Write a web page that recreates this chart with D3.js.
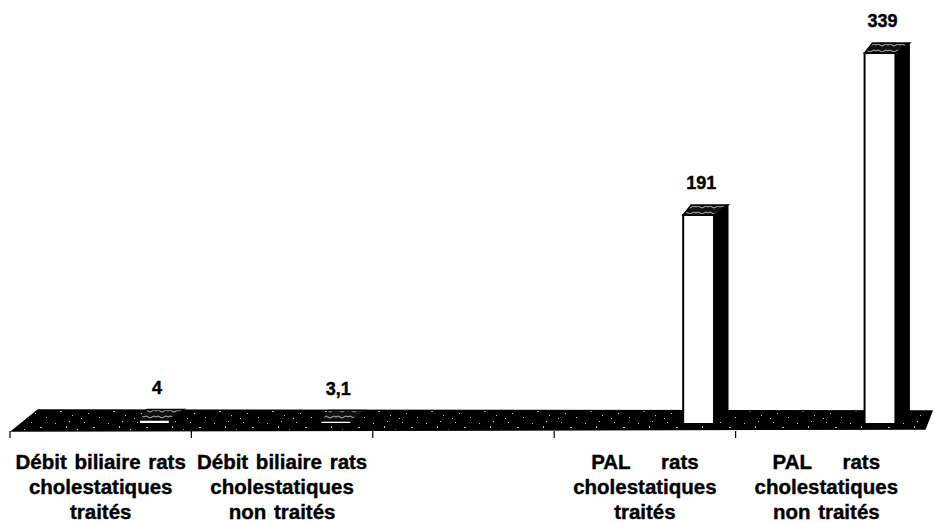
<!DOCTYPE html>
<html>
<head>
<meta charset="utf-8">
<script src="https://cdn.jsdelivr.net/npm/d3@7"></script>
<style>
  html, body { margin: 0; padding: 0; background: #fff; }
  svg { display: block; }
  text { font-family: "Liberation Sans", Arial, sans-serif; font-weight: bold; fill: #000; stroke: #000; stroke-width: 0.4px; }
</style>
</head>
<body>
<svg id="chart" width="934" height="522"></svg>
<script>
// Categories (one empty slot between the two groups) and their wrapped labels
const categories = [
  "Débit biliaire rats cholestatiques traités",
  "Débit biliaire rats cholestatiques non traités",
  "",
  "PAL rats cholestatiques traités",
  "PAL rats cholestatiques non traités"
];
const labelLines = [
  ["Débit biliaire rats", "cholestatiques", "traités"],
  ["Débit biliaire rats", "cholestatiques", "non traités"],
  [],
  ["PAL    rats", "cholestatiques", "traités"],
  ["PAL    rats", "cholestatiques", "non traités"]
];
const values = [4, 3.1, null, 191, 339];
const valueLabels = ["4", "3,1", "", "191", "339"];

const svg = d3.select("#chart");

// Scales
const x = d3.scaleBand().domain(d3.range(categories.length)).range([10, 917]).padding(0);
const y = d3.scaleLinear().domain([0, 339]).range([424, 53]);

// Depth of the 3D look
const floorFront = 431, floorBack = 410;
const topDy = 10, topDxL = 8, topDxR = 14;
const bw = x.bandwidth();
const barLeft = i => x(i) + bw * 0.711;
const barFront = bw * 0.17;

// Speckled texture used on the floor
const defs = svg.append("defs");
const pat = defs.append("pattern")
  .attr("id", "speckle").attr("patternUnits", "userSpaceOnUse")
  .attr("width", 53).attr("height", 21);
pat.append("rect").attr("width", 53).attr("height", 21).attr("fill", "#000");
const marks = [
  [2, 3, 1, 1], [7, 12, 2, 1], [13, 6, 1, 2], [19, 16, 1, 1], [24, 9, 1, 1],
  [31, 2, 1, 1], [35, 14, 1, 1], [40, 7, 2, 1], [46, 18, 1, 1], [50, 11, 1, 1],
  [16, 1, 1, 1], [28, 19, 1, 1]
];
pat.selectAll("rect.m").data(marks).join("rect").attr("class", "m")
  .attr("x", d => d[0]).attr("y", d => d[1])
  .attr("width", d => d[2]).attr("height", d => d[3])
  .attr("fill", "#fff").attr("opacity", 0.75);

// Bar top texture: dark with a light squiggle
const topPat = defs.append("pattern")
  .attr("id", "topTex").attr("patternUnits", "userSpaceOnUse")
  .attr("width", 12).attr("height", 6);
topPat.append("rect").attr("width", 12).attr("height", 6).attr("fill", "#111");
topPat.append("path").attr("d", "M0,3 q2,-2 4,0 t4,0 t4,0")
  .attr("stroke", "#fff").attr("stroke-width", 1).attr("fill", "none").attr("opacity", 0.7);

// Floor
const [x0, x1] = x.range();
svg.append("path")
  .attr("d", `M${x0 + 2},${floorFront} L${x0 + 28},${floorBack} L${x1 + 15},${floorBack + 1} L${x1 + 8},${floorFront - 2} Z`)
  .attr("fill", "url(#speckle)")
  .attr("stroke", "#000").attr("stroke-width", 1.5);

// Category tick marks under the floor front edge
svg.append("g").selectAll("line")
  .data(d3.range(categories.length))
  .join("line")
  .attr("x1", i => x(i)).attr("x2", i => x(i))
  .attr("y1", floorFront).attr("y2", floorFront + 7)
  .attr("stroke", "#000").attr("stroke-width", 1.2);

// Bars
const bars = svg.append("g").selectAll("g")
  .data(values.map((v, i) => ({ v, i })).filter(d => d.v != null))
  .join("g");

bars.each(function (d) {
  const g = d3.select(this);
  const L = barLeft(d.i), R = L + barFront;
  const yT = y(d.v), yB = y(0);
  // side face
  g.append("path")
    .attr("d", `M${R},${yT} L${R + topDxR},${yT - topDy} L${R + topDxR},${yB - topDy} L${R},${yB} Z`)
    .attr("fill", "#000").attr("stroke", "#000").attr("stroke-width", 1);
  // front face
  g.append("rect")
    .attr("x", L).attr("y", yT).attr("width", barFront).attr("height", yB - yT)
    .attr("fill", "#fff").attr("stroke", "#000").attr("stroke-width", 2);
  // top face
  g.append("path")
    .attr("d", `M${L},${yT} L${L + topDxL},${yT - topDy} L${R + topDxR},${yT - topDy} L${R},${yT} Z`)
    .attr("fill", "url(#topTex)").attr("stroke", "#000").attr("stroke-width", 1.5);
});

// Value labels
svg.append("g").selectAll("text")
  .data(values.map((v, i) => ({ v, i })).filter(d => d.v != null))
  .join("text")
  .attr("x", d => barLeft(d.i) + 18)
  .attr("y", d => y(d.v) - 26)
  .attr("text-anchor", "middle")
  .attr("font-size", 18)
  .text(d => valueLabels[d.i]);

// Category labels
const lab = svg.append("g").selectAll("text")
  .data(labelLines.map((lines, i) => ({ lines, i })).filter(d => d.lines.length))
  .join("text")
  .attr("text-anchor", "middle")
  .attr("font-size", 20.5)
  .style("white-space", "pre")
  .style("word-spacing", "2px");
lab.selectAll("tspan")
  .data(d => d.lines.map((t, k) => ({ t, k, i: d.i })))
  .join("tspan")
  .attr("x", d => x(d.i) + bw / 2)
  .attr("y", d => 469 + d.k * 25)
  .text(d => d.t);
</script>
</body>
</html>
